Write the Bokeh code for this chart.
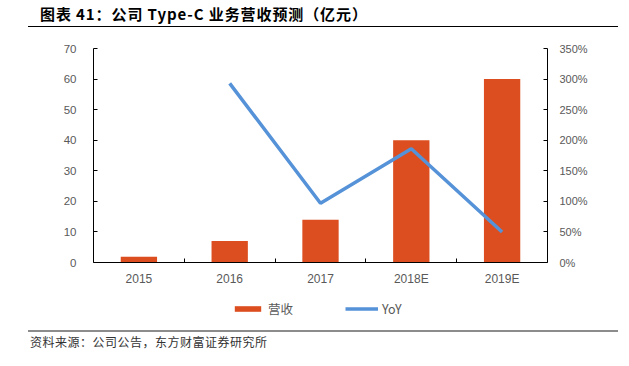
from bokeh.plotting import figure
from bokeh.models import (Range1d, LinearAxis, FixedTicker, Legend, LegendItem,
                          ColumnDataSource, Div)
from bokeh.layouts import column
from bokeh.embed import file_html
from bokeh.resources import INLINE
import numpy as np

# ---- data ----
categories = ["2015", "2016", "2017", "2018E", "2019E"]
revenue = [1.9, 7.0, 14.0, 40.0, 60.0]          # 营收 (亿元)
yoy = [float("nan"), 293.0, 97.0, 186.0, 50.0]   # YoY (%)
left_ticks = [0, 10, 20, 30, 40, 50, 60, 70]
right_ticks = [0, 50, 100, 150, 200, 250, 300, 350]
series_names = ["营收", "YoY"]

title_text = "图表 41：公司 Type-C 业务营收预测（亿元）"
source_text = "资料来源：公司公告，东方财富证券研究所"

BAR = "#DC4E1F"
LINE = "#5592D8"
GRAY = "#595959"

xpos = np.arange(len(categories)) + 0.5
src = ColumnDataSource(dict(x=xpos, rev=revenue, yoy=yoy))

# ---------------- main chart ----------------
p = figure(frame_width=454, frame_height=214, output_backend="svg", toolbar_location=None,
           x_range=Range1d(0, len(categories)), y_range=Range1d(0, 70),
           min_border_left=93, min_border_right=82, min_border_top=20,
           min_border_bottom=34, x_axis_type=None, y_axis_type=None, margin=(0, 0, 0, 0))
p.extra_y_ranges = {"yoy": Range1d(0, 350)}
p.grid.visible = False
p.outline_line_color = None
p.background_fill_color = "white"
p.border_fill_color = "white"

xa = LinearAxis(ticker=FixedTicker(ticks=list(xpos), minor_ticks=list(range(1, len(categories)))))
xa.major_label_overrides = {float(v): c for v, c in zip(xpos, categories)}
xa.major_tick_line_color = None
xa.minor_tick_in = 4
xa.minor_tick_out = 0
xa.minor_tick_line_color = "black"
xa.axis_line_color = "black"
xa.major_label_text_font = "Liberation Sans"
xa.major_label_text_font_size = "12px"
xa.major_label_text_color = GRAY
xa.major_label_standoff = 3
p.add_layout(xa, "below")

ya = LinearAxis(ticker=FixedTicker(ticks=left_ticks, minor_ticks=[]))
ya.major_tick_in = 4
ya.major_tick_out = 0
ya.axis_line_color = "black"
ya.major_tick_line_color = "black"
ya.major_label_text_font = "Liberation Sans"
ya.major_label_text_font_size = "11.5px"
ya.major_label_text_color = GRAY
ya.major_label_standoff = 17
p.add_layout(ya, "left")

yr = LinearAxis(y_range_name="yoy", ticker=FixedTicker(ticks=right_ticks, minor_ticks=[]))
yr.major_label_overrides = {t: f"{t}%" for t in right_ticks}
yr.major_tick_in = 4
yr.major_tick_out = 0
yr.axis_line_color = "black"
yr.major_tick_line_color = "black"
yr.major_label_text_font = "Liberation Sans"
yr.major_label_text_font_size = "11px"
yr.major_label_text_color = GRAY
yr.major_label_standoff = 12
p.add_layout(yr, "right")

p.vbar(x="x", top="rev", width=0.4, source=src, fill_color=BAR, line_color=None)
p.line(x="x", y="yoy", source=src, y_range_name="yoy", line_color=LINE, line_width=3.5)

# ---------------- legend strip (same series, renderers hidden; only the key shows) ----------------
lg = figure(width=629, height=26, output_backend="svg", toolbar_location=None,
            x_range=Range1d(0, 1), y_range=Range1d(0, 1), x_axis_type=None, y_axis_type=None,
            min_border=0, margin=(0, 0, 0, 0))
lg.grid.visible = False
lg.outline_line_color = None
r_bar = lg.vbar(x="x", top="rev", width=0.4, source=src, fill_color=BAR, line_color=None,
                visible=False)
r_line = lg.line(x="x", y="yoy", source=src, line_color=LINE, line_width=3.5, visible=False)
legend = Legend(items=[LegendItem(label=series_names[0], renderers=[r_bar]),
                       LegendItem(label=series_names[1], renderers=[r_line])],
                orientation="horizontal", location=(138, 4),
                glyph_width=33, glyph_height=7, label_standoff=4, spacing=52,
                label_text_font="Noto Sans CJK SC", label_text_font_size="12.5px",
                label_text_color=GRAY, border_line_color=None,
                inactive_fill_alpha=0,
                background_fill_alpha=0, padding=2, margin=0)
lg.add_layout(legend, "center")

# ---------------- title and source ----------------
title_div = Div(
    text=('<div style="position:absolute;left:28px;top:0;width:590px;height:27px;'
          'border-bottom:1px solid #000;">'
          '<span style="position:absolute;left:12px;top:5px;white-space:nowrap;'
          'font-family:\'Noto Sans CJK SC\';font-weight:bold;font-size:15px;letter-spacing:0.9px;'
          'line-height:18px;color:#000;">' + title_text + '</span></div>'),
    width=629, height=28, margin=(0, 0, 0, 0))

source_div = Div(
    text=('<div style="position:absolute;left:28px;top:8px;width:590px;height:30px;'
          'border-top:2px solid #8c8c8c;">'
          '<span style="position:absolute;left:2px;top:2px;white-space:nowrap;'
          'font-family:\'Noto Sans CJK SC\';font-size:12px;letter-spacing:0.5px;line-height:16px;'
          'color:#333;">' + source_text + '</span></div>'),
    width=629, height=44, margin=(0, 0, 0, 0))

layout = column(title_div, p, lg, source_div, spacing=0, margin=(0, 0, 0, 0))

open("out.html", "w").write(file_html(layout, INLINE))
